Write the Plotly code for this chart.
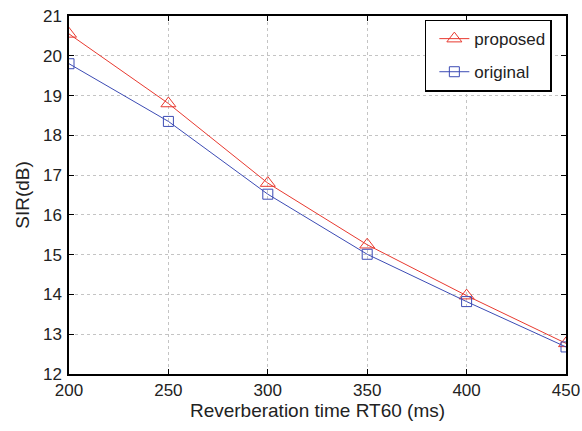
import plotly.graph_objects as go

rt60 = [200, 250, 300, 350, 400, 450]
proposed = [20.55, 18.8, 16.8, 15.25, 13.97, 12.77]
original = [19.8, 18.35, 16.52, 15.01, 13.82, 12.68]
x_ticks = [200, 250, 300, 350, 400, 450]
y_ticks = [12, 13, 14, 15, 16, 17, 18, 19, 20, 21]

RED = "#e8392f"
BLUE = "#3c4bb4"
FONT = "Liberation Sans, Arial, sans-serif"

fig = go.Figure()
fig.add_trace(go.Scatter(
    x=rt60, y=proposed, name="proposed", mode="lines+markers", legendgroup="a",
    line=dict(color=RED, width=1),
    marker=dict(symbol="triangle-up-open", size=13, color=RED, line=dict(width=1, color=RED)),
))
fig.add_trace(go.Scatter(
    x=rt60, y=original, name="original", mode="lines+markers", legendgroup="b",
    line=dict(color=BLUE, width=1),
    marker=dict(symbol="square-open", size=10, color=BLUE, line=dict(width=1, color=BLUE)),
))

axis_common = dict(
    showline=True, mirror="ticks", linecolor="black", linewidth=1.5,
    ticks="inside", ticklen=5, tickcolor="black", tickwidth=1,
    showgrid=True, gridcolor="#c4c4c4", griddash="dot", gridwidth=1,
    zeroline=False, automargin=False,
    tickfont=dict(family=FONT, size=17, color="#222"),
)

fig.update_layout(
    width=582, height=431,
    margin=dict(l=69, r=16, t=16, b=57),
    paper_bgcolor="white", plot_bgcolor="white",
    font=dict(family=FONT, color="#222"),
    xaxis=dict(range=[200, 450], tickvals=x_ticks, ticklabelstandoff=0,
               title=dict(text="Reverberation time RT60 (ms)", font=dict(family=FONT, size=19), standoff=4),
               **axis_common),
    yaxis=dict(range=[12, 21], tickvals=y_ticks, ticklabelstandoff=2,
               title=dict(text="SIR(dB)", font=dict(family=FONT, size=19), standoff=8),
               **axis_common),
    legend=dict(x=0.716, y=0.99, xanchor="left", yanchor="top",
                bordercolor="black", borderwidth=1.5, bgcolor="white",
                font=dict(family=FONT, size=17, color="#222"),
                tracegroupgap=8, indentation=8),
    showlegend=True,
)

fig.write_html("out.html")
